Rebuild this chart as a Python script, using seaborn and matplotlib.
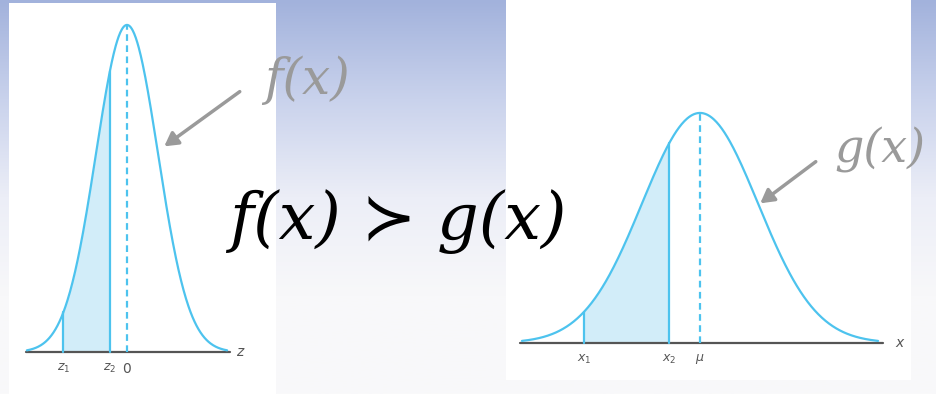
import numpy as np
import pandas as pd
import matplotlib
matplotlib.use("Agg")
import matplotlib.pyplot as plt
import seaborn as sns

sns.set_style("white")

# standardised normal f(z) and general normal g(x), both drawn as exp(-t^2/2)
left_bounds = [-2.05, -0.55]     # z1, z2 (in sigma units)
left_tick_labels = ["$z_1$", "$z_2$", "0"]
left_span = [-3.23, 3.23]
right_bounds = [-2.0, -0.53]     # x1, x2
right_tick_labels = ["$x_1$", "$x_2$", r"$\mu$"]
right_span = [-3.07, 3.07]

curve_color = "#4dc3ee"
fill_color = "#d2edf9"
axis_color = "#555555"

fig = plt.figure(figsize=(9.36, 3.94), dpi=100)

# gradient background
bg = fig.add_axes([0, 0, 1, 1])
grad = np.linspace(0, 1, 256).reshape(-1, 1)
cmap = matplotlib.colors.LinearSegmentedColormap.from_list(
    "bg", ["#a2b2dc", "#c9d2ec", "#eceef7", "#f8f8fa", "#f9f9fa"])
bg.imshow(grad, aspect="auto", cmap=cmap, extent=[0, 1, 0, 1])
bg.set_axis_off()


def draw_panel(rect, xlim, ylim, span, bounds, labels, axis_end, var):
    ax = fig.add_axes(rect)
    ax.set_facecolor("white")
    t = np.linspace(span[0], span[1], 400)
    df = pd.DataFrame({"t": t, "d": np.exp(-t ** 2 / 2)})
    sns.lineplot(data=df, x="t", y="d", ax=ax, color=curve_color, lw=1.6)
    sel = df[(df.t >= bounds[0]) & (df.t <= bounds[1])]
    ax.fill_between(sel.t, 0, sel.d, color=fill_color, lw=0)
    for b in bounds:
        ax.plot([b, b], [0, np.exp(-b ** 2 / 2)], color=curve_color, lw=1.6)
    ax.plot([0, 0], [0, 1], color=curve_color, lw=1.6, ls=(0, (3, 2)))
    ax.plot(axis_end, [0, 0], color=axis_color, lw=1.6, zorder=1)
    for pos, lab in zip(bounds + [0], labels):
        ax.text(pos, -0.025 * (ylim[1] - ylim[0]), lab, ha="center", va="top",
                color=axis_color, fontsize=9 if lab != "0" else 10)
    ax.text(axis_end[1] + 0.2, 0, var, ha="left", va="center",
            color=axis_color, fontsize=10, style="italic")
    ax.set_xlim(xlim)
    ax.set_ylim(ylim)
    ax.set_xticks([])
    ax.set_yticks([])
    ax.set_xlabel("")
    ax.set_ylabel("")
    for s in ax.spines.values():
        s.set_visible(False)
    return ax


draw_panel([9 / 936, 0, 267 / 936, 391 / 394], (-3.806, 4.806), (-0.128, 1.067),
           left_span, left_bounds, left_tick_labels, [-3.26, 3.32], "z")
draw_panel([506 / 936, 14 / 394, 405 / 936, 380 / 394], (-3.345, 3.638), (-0.161, 1.491),
           right_span, right_bounds, right_tick_labels, [-3.10, 3.16], "x")

# handwritten annotations on top
top = fig.add_axes([0, 0, 1, 1])
top.set_xlim(0, 936)
top.set_ylim(394, 0)
top.set_axis_off()
top.patch.set_alpha(0)

hand = dict(family=["DejaVu Serif", "DejaVu Sans"], style="italic")
top.text(307, 80, "f(x)", color="#9a9a9a", fontsize=36, ha="center", va="center", **hand)
top.text(880, 150, "g(x)", color="#9a9a9a", fontsize=33, ha="center", va="center", **hand)
top.text(398, 222, "f(x) \u227b g(x)", color="black", fontsize=47, ha="center", va="center", **hand)

arrow = dict(arrowstyle="-|>,head_length=0.8,head_width=0.45", color="#9a9a9a", lw=2.5)
top.annotate("", xy=(162, 148), xytext=(242, 90), arrowprops=arrow)
top.annotate("", xy=(758, 205), xytext=(818, 160), arrowprops=arrow)

fig.savefig("out.png", dpi=100)
